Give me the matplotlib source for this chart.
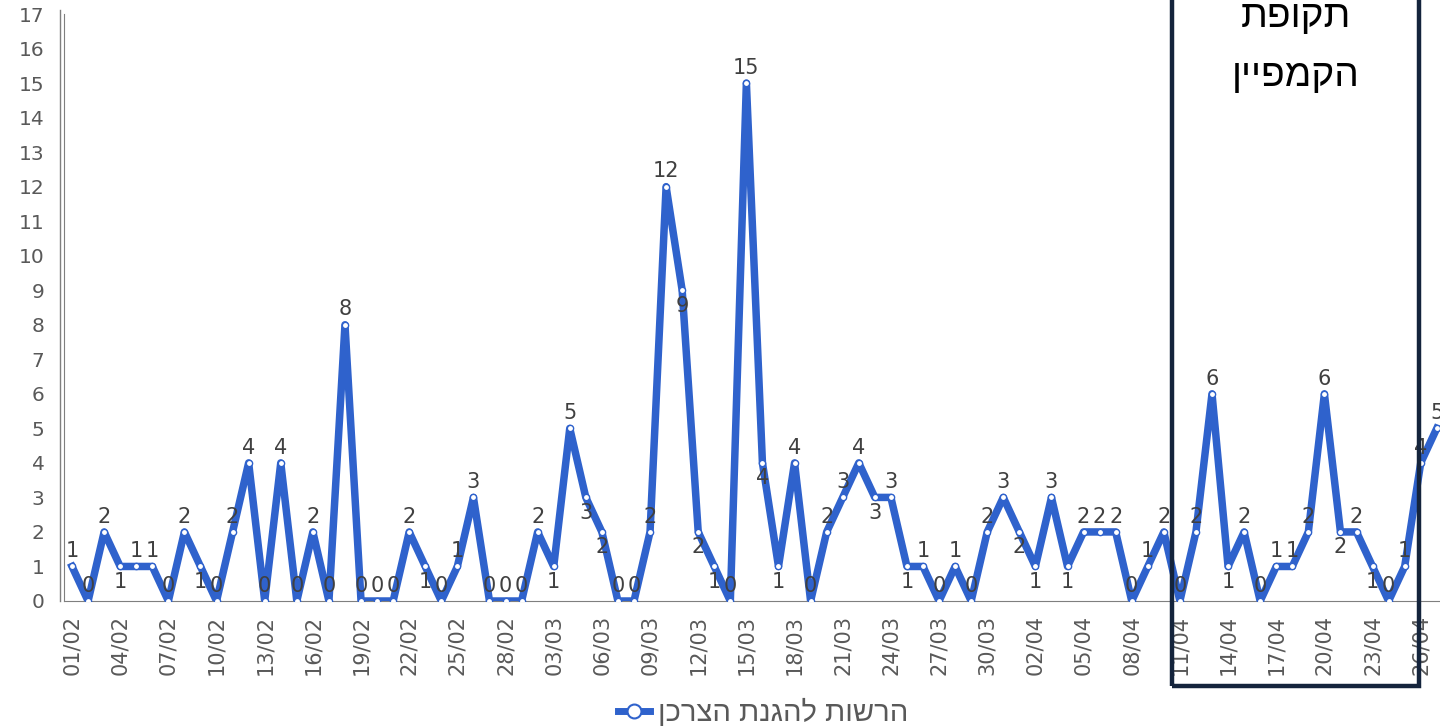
import pandas as pd
import matplotlib.pyplot as plt
from matplotlib.lines import Line2D
from matplotlib.patches import Rectangle

# daily complaints, starting 01/02
start_date = "2023-02-01"
values = [1, 0, 2, 1, 1, 1, 0, 2, 1, 0,
          2, 4, 0, 4, 0, 2, 0, 8, 0, 0,
          0, 2, 1, 0, 1, 3, 0, 0, 0, 2,
          1, 5, 3, 2, 0, 0, 2, 12, 9, 2,
          1, 0, 15, 4, 1, 4, 0, 2, 3, 4,
          3, 3, 1, 1, 0, 1, 0, 2, 3, 2,
          1, 3, 1, 2, 2, 2, 0, 1, 2, 0,
          2, 6, 1, 2, 0, 1, 1, 2, 6, 2,
          2, 1, 0, 1, 4, 5]
# days whose value label sits under the point
labels_below = [3, 8, 22, 30, 32, 33, 38, 39, 40, 43, 44, 50, 52, 59, 60, 62, 72, 79, 81]
series_name = "הרשות להגנת הצרכן"
campaign_title = ["תקופת", "הקמפיין"]
campaign_days = (68.5, 83.9)

dates = pd.date_range(start=start_date, periods=len(values), freq="D")
x = list(range(len(values)))

blue = "#2f62cc"
gray = "#595959"
heb = ["Liberation Sans", "DejaVu Sans"]

fig = plt.figure(figsize=(14.4, 7.27), dpi=100)
ax = fig.add_axes([64 / 1440, 126 / 727, 1376 / 1440, 587 / 727])

ax.plot(x, values, color=blue, lw=5.4, marker="o", ms=4.5,
        mfc="white", mec=blue, mew=1.0, solid_joinstyle="round", zorder=3)

for i, v in enumerate(values):
    dy = -11 if i in labels_below else 11
    ax.annotate(str(v), (i, v), xytext=(0, dy), textcoords="offset points",
                ha="center", va="center", fontsize=15, color="#404040", zorder=4)

ax.set_xlim(-0.5, 85.2)
ax.set_ylim(0, 17)
ax.set_yticks(range(0, 18))
ax.set_xticks(x[::3])
ax.set_xticklabels([d.strftime("%d/%m") for d in dates[::3]], rotation=90)
ax.tick_params(axis="x", length=0, pad=10, labelsize=15, labelcolor=gray)
ax.tick_params(axis="y", length=0, pad=14, labelsize=14.5, labelcolor=gray)

for side in ["top", "right"]:
    ax.spines[side].set_visible(False)
ax.spines["bottom"].set_color("#7f7f7f")
ax.spines["left"].set_color("#7f7f7f")
fig.add_artist(Line2D([60 / 1440, 60 / 1440], [126 / 727, 717 / 727],
                      color="#7f7f7f", lw=1))

# campaign period frame
ax.add_patch(Rectangle((campaign_days[0], -2.46), campaign_days[1] - campaign_days[0], 20,
                       fill=False, ec="#14243c", lw=3.2, clip_on=False, zorder=5))
cx = ax.transData.transform((sum(campaign_days) / 2, 0))[0] / 1440
fig.text(cx, 1 - 17 / 727, campaign_title[0][::-1],
         ha="center", va="center", fontsize=28, family=heb)
fig.text(cx, 1 - 76 / 727, campaign_title[1][::-1],
         ha="center", va="center", fontsize=28, family=heb)

legend_handle = Line2D([], [], color=blue, lw=5, marker="o", ms=10,
                       mfc="white", mec=blue, mew=1.5)
fig.legend(handles=[legend_handle], labels=[series_name[::-1]], loc="center",
           bbox_to_anchor=(0.53, 1 - 713 / 727), frameon=False, labelcolor=gray,
           handlelength=1.1, handletextpad=0.3, prop={"family": heb, "size": 21})

fig.savefig("out.png", dpi=100)
